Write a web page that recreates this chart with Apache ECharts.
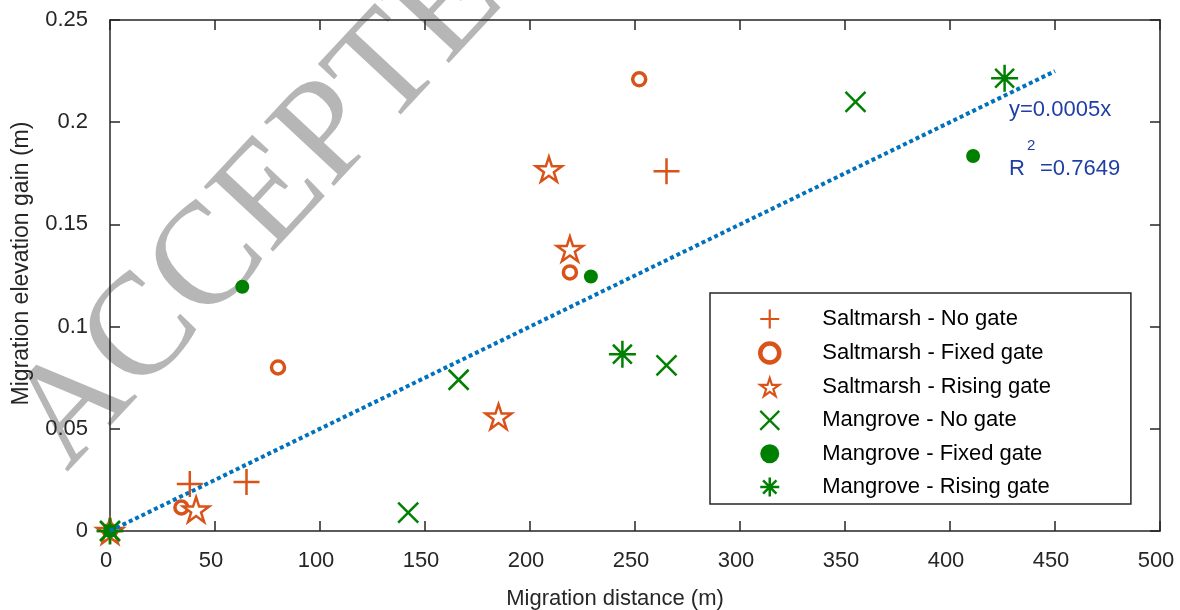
<!DOCTYPE html>
<html>
<head>
    <meta charset="utf-8">
    <title>Migration distance vs elevation gain</title>
    <script src="https://cdn.jsdelivr.net/npm/echarts@6/dist/echarts.min.js"></script>
    <style>
        html, body { margin: 0; padding: 0; background: #fff; }
        #chart1 { width: 1180px; height: 610px; }
    </style>
</head>
<body>
<div id="chart1"></div>
<script>
    // data: [distance (m), elevation gain (m)]
    var saltNoGate = [[0, 0], [38, 0.023], [65, 0.024], [265, 0.176]];
    var saltFixedGate = [[0, 0], [34, 0.0115], [80, 0.080], [219, 0.1265], [252, 0.221]];
    var saltRisingGate = [[0, 0], [41, 0.0105], [185, 0.056], [209, 0.177], [219, 0.138]];
    var mangNoGate = [[0, 0], [142, 0.009], [166, 0.074], [265, 0.081], [355, 0.210]];
    var mangFixedGate = [[0, 0], [63, 0.1195], [229, 0.1245], [411, 0.1835]];
    var mangRisingGate = [[0, 0], [244, 0.0865], [426, 0.2215]];

    var seriesNames = ['Saltmarsh - No gate', 'Saltmarsh - Fixed gate', 'Saltmarsh - Rising gate',
        'Mangrove - No gate', 'Mangrove - Fixed gate', 'Mangrove - Rising gate'];

    // fitted trend line y = 0.0005x
    var trendSlope = 0.0005;
    var trendX = [0, 450];
    var trendLabel = 'y=0.0005x';
    var r2Label = '=0.7649';

    var xTicks = { min: 0, max: 500, interval: 50 };
    var yTicks = { min: 0, max: 0.25, interval: 0.05 };

    var orange = '#D95319';
    var green = '#008000';
    var font = '"Liberation Sans", Arial, sans-serif';
    var fs = 22;

    var plusPath = 'path://M0 10 L20 10 M10 0 L10 20';
    var crossPath = 'path://M0 0 L20 20 M20 0 L0 20';
    var starPath = 'path://M50 0 L61.23 34.55 L97.55 34.55 L68.17 55.9 L79.39 90.45 L50 69.1 L20.61 90.45 L31.83 55.9 L2.45 34.55 L38.77 34.55 Z';
    var asteriskPath = 'path://M0 10 L20 10 M10 0 L10 20 M3 3 L17 17 M17 3 L3 17';

    function scatter(name, data, symbol, size, itemStyle) {
        itemStyle.opacity = 1;
        return {
            name: name,
            type: 'scatter',
            data: data,
            symbol: symbol,
            symbolSize: size,
            symbolKeepAspect: true,
            itemStyle: itemStyle,
            emphasis: { disabled: true }
        };
    }

    var myChart1 = echarts.init(document.getElementById('chart1'), null, { renderer: 'canvas' });

    var axisLine = { show: true, onZero: false, lineStyle: { color: '#262626', width: 1.5 } };
    var tickIn = { show: true, inside: true, length: 10, lineStyle: { color: '#262626', width: 1.5 } };

    myChart1.setOption({
        animation: false,
        backgroundColor: '#fff',
        grid: { left: 110, right: 20, top: 20, bottom: 79, containLabel: false, outerBoundsMode: 'none' },
        legend: {
            data: [
                { name: seriesNames[0], itemStyle: { borderWidth: 2.2 } },
                { name: seriesNames[1], itemStyle: { borderWidth: 4.5 } },
                { name: seriesNames[2], itemStyle: { borderWidth: 2.2 } },
                { name: seriesNames[3], itemStyle: { borderWidth: 2.2 } },
                { name: seriesNames[4], itemStyle: { borderWidth: 0 } },
                { name: seriesNames[5], itemStyle: { borderWidth: 2.5 } }
            ],
            orient: 'vertical',
            left: 710,
            top: 293,
            padding: [15, 80, 6, 48],
            itemWidth: 19,
            itemHeight: 19,
            itemGap: 11.3,
            borderColor: '#262626',
            borderWidth: 1.5,
            backgroundColor: '#fff',
            selectedMode: false,
            textStyle: { fontFamily: font, fontSize: fs, color: '#000', padding: [0, 0, 0, 38] }
        },
        graphic: [
            {
                type: 'text', z: -1, x: 92, y: 496, rotation: 47 * Math.PI / 180,
                style: {
                    text: 'ACCEPTED MANUSCRIPT', font: '145px "Liberation Serif", "DejaVu Serif", serif',
                    fill: '#b6b6b6', verticalAlign: 'bottom'
                }
            },
            {
                type: 'text', z: 10, x: 1009, y: 110,
                style: { text: trendLabel, font: fs + 'px ' + font, fill: '#1f3fa6', verticalAlign: 'middle' }
            },
            {
                type: 'text', z: 10, x: 1009, y: 169,
                style: { text: 'R', font: fs + 'px ' + font, fill: '#1f3fa6', verticalAlign: 'middle' }
            },
            {
                type: 'text', z: 10, x: 1027, y: 146,
                style: { text: '2', font: '15px ' + font, fill: '#1f3fa6', verticalAlign: 'middle' }
            },
            {
                type: 'text', z: 10, x: 1040, y: 169,
                style: { text: r2Label, font: fs + 'px ' + font, fill: '#1f3fa6', verticalAlign: 'middle' }
            }
        ],
        xAxis: [
            {
                type: 'value', position: 'bottom',
                min: xTicks.min, max: xTicks.max, interval: xTicks.interval,
                name: 'Migration distance (m)', nameLocation: 'middle', nameGap: 57,
                nameTextStyle: { fontFamily: font, fontSize: fs, color: '#262626', padding: [0, 40, 0, 0] },
                axisLine: axisLine, axisTick: tickIn,
                axisLabel: { fontFamily: font, fontSize: fs, color: '#262626', margin: 19, padding: [0, 8, 0, 0] },
                splitLine: { show: false }
            },
            {
                type: 'value', position: 'top',
                min: xTicks.min, max: xTicks.max, interval: xTicks.interval,
                axisLine: axisLine, axisTick: tickIn,
                axisLabel: { show: false }, splitLine: { show: false }
            }
        ],
        yAxis: [
            {
                type: 'value', position: 'left',
                min: yTicks.min, max: yTicks.max, interval: yTicks.interval,
                name: 'Migration elevation gain (m)', nameLocation: 'middle', nameGap: 77,
                nameTextStyle: { fontFamily: font, fontSize: 23, color: '#262626', padding: [0, 0, 0, 24] },
                axisLine: axisLine, axisTick: tickIn,
                axisLabel: { fontFamily: font, fontSize: fs, color: '#262626', margin: 22, padding: [8, 0, 0, 0] },
                splitLine: { show: false }
            },
            {
                type: 'value', position: 'right',
                min: yTicks.min, max: yTicks.max, interval: yTicks.interval,
                axisLine: axisLine, axisTick: tickIn,
                axisLabel: { show: false }, splitLine: { show: false }
            }
        ],
        series: [
            scatter(seriesNames[0], saltNoGate, plusPath, 26,
                { color: orange, borderColor: orange, borderWidth: 2.5 }),
            scatter(seriesNames[1], saltFixedGate, 'circle', 13,
                { color: '#fff', borderColor: orange, borderWidth: 3.5 }),
            scatter(seriesNames[2], saltRisingGate, starPath, 26,
                { color: '#fff', borderColor: orange, borderWidth: 2.5 }),
            scatter(seriesNames[3], mangNoGate, crossPath, 20,
                { color: green, borderColor: green, borderWidth: 2.5 }),
            scatter(seriesNames[4], mangFixedGate, 'circle', 14,
                { color: green, borderColor: green, borderWidth: 0 }),
            scatter(seriesNames[5], mangRisingGate, asteriskPath, 27,
                { color: green, borderColor: green, borderWidth: 2.5 }),
            {
                name: 'trend',
                type: 'line',
                data: trendX.map(function (x) { return [x, trendSlope * x]; }),
                showSymbol: false,
                symbol: 'none',
                lineStyle: { color: '#0072BD', width: 4, type: [4, 3] },
                emphasis: { disabled: true },
                z: 3
            }
        ]
    });
</script>
</body>
</html>
